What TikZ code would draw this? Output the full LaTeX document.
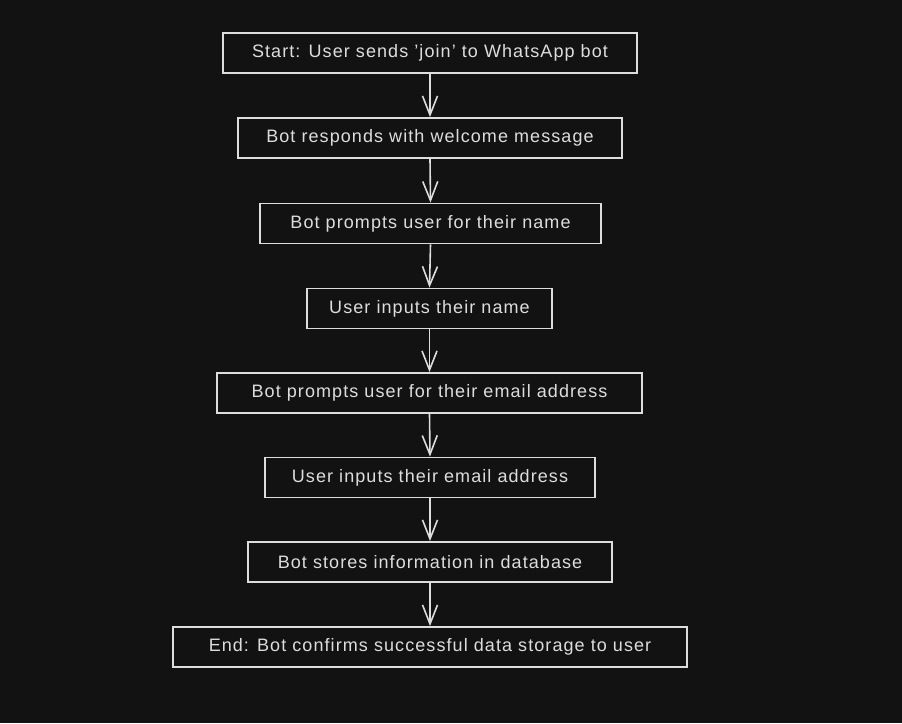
\documentclass[tikz,border=0pt]{standalone}
\usepackage{fontspec}
\setmainfont{Liberation Sans}[LetterSpace=6]
\usetikzlibrary{arrows.meta}
\definecolor{bg}{HTML}{121212}
\definecolor{ink}{HTML}{DDDDDD}
\begin{document}
\begin{tikzpicture}[x=1pt,y=-1pt,
  box/.style={draw=ink, line width=1.8pt, fill=bg, text=ink, minimum height=40pt, inner sep=0pt, font=\fontsize{18}{20}\selectfont},
  conn/.style={draw=ink, line width=1.6pt, -{Straight Barb[length=19pt,width=15pt,line width=1.6pt]}}]
\fill[bg] (0,0) rectangle (902,723);
\useasboundingbox (0,0) rectangle (902,723);
\node[box, minimum width=414pt] (n1) at (430,53) {Start: User sends 'join' to WhatsApp bot};
\node[box, minimum width=384pt] (n2) at (430,138) {Bot responds with welcome message};
\node[box, minimum width=341pt] (n3) at (430.5,223.5) {Bot prompts user for their name};
\node[box, minimum width=245pt] (n4) at (429.5,308.5) {User inputs their name};
\node[box, minimum width=425pt] (n5) at (429.5,393) {Bot prompts user for their email address};
\node[box, minimum width=330pt] (n6) at (430,477.5) {User inputs their email address};
\node[box, minimum width=364pt] (n7) at (430,562) {Bot stores information in database};
\node[box, minimum width=514pt] (n8) at (430,647) {End: Bot confirms successful data storage to user};
\foreach \a/\b in {n1/n2,n2/n3,n3/n4,n4/n5,n5/n6,n6/n7,n7/n8}
  \draw[conn] (\a.south) -- (\b.north);
\end{tikzpicture}
\end{document}
